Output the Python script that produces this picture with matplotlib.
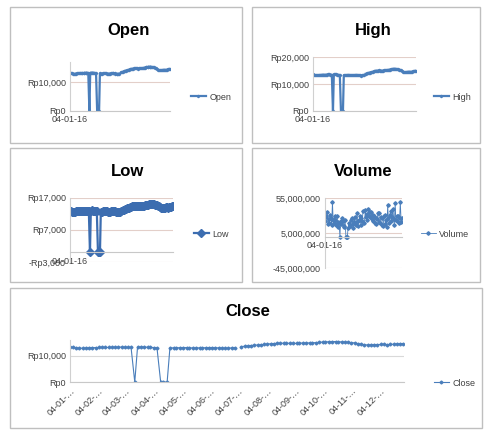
import numpy as np
import pandas as pd
import matplotlib
matplotlib.use('Agg')
import matplotlib.pyplot as plt
from matplotlib.patches import Rectangle
from matplotlib.ticker import FuncFormatter

plt.rcParams['font.family'] = ['Liberation Sans', 'DejaVu Sans']

# quotes sampled Monday / Thursday through 2016 (0 = empty rows in the sheet)
mondays = pd.date_range('2016-01-04', periods=52, freq='7D')
dates = mondays.append(mondays + pd.Timedelta(days=3)).sort_values()
nan = np.nan

open_px = [13250, 13200, 13100, 12950, 12900, 12900, 13000, 13050, 13100, 13100,
           13150, 13200, 13150, 13150, 13200, 13250, 13300, 13300, 13250, 13200,
           0, 13250, 13300, 13350, 13300, 13250, 13150, 13100, 0, 0,
           0, 13050, 13000, 13000, 13050, 13050, 13100, 13100, 13000, 12950,
           13000, 13000, 13050, 13050, 13100, 13100, 13050, 13000, 12900, 12850,
           12950, 13000, nan, 13400, 13550, 13650, 13800, 13950, 14050, 14100,
           14200, 14350, 14500, 14600, 14650, 14700, 14750, 14800, 14750, 14750,
           14700, 14750, 14800, 14850, 14850, 14900, 14950, 15050, 15150, 15200,
           15300, 15350, 15400, 15400, 15300, 15250, 15150, 15100, 14950, 14850,
           14450, 14250, 14150, 14100, 14150, 14200, 14250, 14300, 14300, 14250,
           14350, 14450, 14550, 14600]
high_px = [13550, 13450, 13300, 13200, 13150, 13200, 13300, 13350, 13350, 13400,
           13450, 13450, 13400, 13450, 13500, 13550, 13550, 13500, 13450, 13400,
           0, 13550, 13600, 13550, 13500, 13450, 13350, 13300, 0, 0,
           0, 13250, 13250, 13300, 13300, 13350, 13350, 13300, 13250, 13250,
           13250, 13300, 13300, 13350, 13350, 13300, 13250, 13200, 13100, 13150,
           13250, 13350, nan, 13800, 13900, 14000, 14150, 14250, 14350, 14400,
           14550, 14650, 14850, 14900, 14950, 14950, 15050, 15000, 15000, 14950,
           14950, 15050, 15100, 15100, 15150, 15200, 15250, 15350, 15450, 15500,
           15600, 15650, 15650, 15600, 15500, 15450, 15350, 15250, 15150, 14900,
           14600, 14450, 14350, 14400, 14450, 14500, 14550, 14550, 14500, 14550,
           14650, 14750, 14850, 14900]
low_px = [13050, 12900, 12750, 12650, 12600, 12700, 12800, 12850, 12850, 12900,
          12950, 12900, 12900, 12950, 13000, 13050, 13050, 13000, 12950, 12900,
          0, 13050, 13100, 13050, 13000, 12950, 12850, 12800, 0, 0,
          0, 12750, 12750, 12800, 12800, 12850, 12850, 12800, 12700, 12750,
          12750, 12800, 12800, 12850, 12850, 12800, 12750, 12700, 12600, 12650,
          12750, 12850, nan, 13250, 13350, 13500, 13650, 13750, 13850, 13900,
          14050, 14150, 14350, 14400, 14450, 14450, 14550, 14500, 14500, 14450,
          14450, 14550, 14600, 14600, 14650, 14700, 14750, 14850, 14950, 15000,
          15100, 15150, 15150, 15100, 15000, 14950, 14850, 14750, 14650, 14350,
          14050, 13950, 13850, 13900, 13950, 14000, 14050, 14050, 14000, 14050,
          14150, 14250, 14350, 14400]
close_px = [13300, 13150, 13000, 12900, 12850, 12950, 13050, 13100, 13100, 13150,
            13200, 13150, 13150, 13200, 13250, 13300, 13300, 13250, 13200, 13150,
            0, 13300, 13350, 13300, 13250, 13200, 13100, 13050, 0, 0,
            0, 13000, 13000, 13050, 13050, 13100, 13100, 13050, 12950, 13000,
            13000, 13050, 13050, 13100, 13100, 13050, 13000, 12950, 12850, 12900,
            13000, 13100, nan, 13500, 13600, 13750, 13900, 14000, 14100, 14150,
            14300, 14400, 14600, 14650, 14700, 14700, 14800, 14750, 14750, 14700,
            14700, 14800, 14850, 14850, 14900, 14950, 15000, 15100, 15200, 15250,
            15350, 15400, 15400, 15350, 15250, 15200, 15100, 15000, 14900, 14600,
            14300, 14200, 14100, 14150, 14200, 14250, 14300, 14300, 14250, 14300,
            14400, 14500, 14600, 14650]
volume_mn = [22, 30, 28, 35, 18, 25, 20, 31, 26, 17,
             50, 24, 20, 29, 24, 16, 30, 21, 14, 19,
             0, 22, 18, 27, 22, 13, 15, 24, 0, 0,
             0, 12, 20, 15, 16, 23, 26, 18, 12, 21,
             28, 17, 19, 34, 15, 22, 24, 30, 17, 26,
             22, 36, nan, 20, 38, 28, 32, 24, 40, 30,
             28, 35, 35, 25, 22, 31, 30, 19, 18, 27,
             25, 33, 33, 21, 20, 28, 27, 16, 15, 29,
             31, 18, 24, 14, 45, 26, 20, 31, 36, 22,
             28, 40, 25, 17, 48, 24, 22, 30, 30, 19,
             26, 50, 21, 27]

month_ticks = pd.date_range('2016-01-04', periods=12, freq=pd.DateOffset(months=1))
month_labels = [d.strftime('%d-%m-') + '\u2026' for d in month_ticks]

W, H = 484, 430
BLUE = '#4a7ebb'
GRID = '#e3cfc9'


def box(x0, y0, x1, y1):
    return [x0 / W, 1 - y1 / H, (x1 - x0) / W, (y1 - y0) / H]


def rupiah(v, pos=None):
    s = 'Rp{:,.0f}'.format(abs(v))
    return '-' + s if v < 0 else s


def setup(ax, ylim, yticks, fmt, grid=GRID):
    ax.set_ylim(*ylim)
    ax.set_yticks(yticks)
    ax.yaxis.set_major_formatter(FuncFormatter(fmt))
    ax.grid(axis='y', color=grid, lw=0.8)
    ax.set_axisbelow(True)
    for s in ['top', 'right']:
        ax.spines[s].set_visible(False)
    ax.spines['left'].set_color('#d0d0d0')
    ax.spines['bottom'].set_color('#c8c8c8')
    ax.tick_params(length=0, labelsize=6.5, colors='#404040', pad=3)


def small_x(ax):
    ax.set_xlim(dates[0], pd.Timestamp('2016-12-30'))
    ax.set_xticks([dates[0]])
    ax.set_xticklabels(['04-01-16'])


fig = plt.figure(figsize=(W / 100, H / 100), dpi=100)

# panel frames
for x0, y0, x1, y1 in [(10, 7, 242, 143), (252, 7, 480, 143), (10, 148, 242, 282),
                       (252, 148, 480, 282), (10, 288, 482, 428)]:
    fig.patches.append(Rectangle((x0 / W, 1 - y1 / H), (x1 - x0) / W, (y1 - y0) / H,
                                 transform=fig.transFigure, fill=False,
                                 ec='#bfbfbf', lw=1))


def legend(ax, line, label, x, y):
    ax.legend([line], [label], loc='center left', bbox_to_anchor=(x / W, 1 - y / H),
              bbox_transform=fig.transFigure, frameon=False, fontsize=6.5,
              handlelength=1.6, handletextpad=0.4, labelcolor='#404040')


# Open
ax = fig.add_axes(box(70, 62, 170, 111))
ln, = ax.plot(dates, open_px, color=BLUE, lw=1.6, marker='D', ms=1.2)
setup(ax, (0, 17000), [0, 10000], rupiah)
small_x(ax)
legend(ax, ln, 'Open', 183, 97)
fig.text(129 / W, 1 - 30 / H, 'Open', ha='center', va='center', fontsize=12, fontweight='bold')

# High
ax = fig.add_axes(box(313, 57, 416, 111))
ln, = ax.plot(dates, high_px, color=BLUE, lw=1.6, marker='D', ms=1.2)
setup(ax, (0, 20000), [0, 10000, 20000], rupiah)
small_x(ax)
legend(ax, ln, 'High', 426, 97)
fig.text(373 / W, 1 - 30 / H, 'High', ha='center', va='center', fontsize=12, fontweight='bold')

# Low
ax = fig.add_axes(box(70, 198, 173, 262))
ln, = ax.plot(dates, low_px, color='#3c6db0', lw=1.6, marker='D', ms=3.8)
setup(ax, (-3000, 17000), [-3000, 7000, 17000], rupiah)
ax.spines['bottom'].set_position(('data', 0))
small_x(ax)
legend(ax, ln, 'Low', 186, 234)
fig.text(128 / W, 1 - 172 / H, 'Low', ha='center', va='center', fontsize=12, fontweight='bold')

# Volume (shares, in millions)
ax = fig.add_axes(box(325, 198, 402, 268))
ln, = ax.plot(dates, volume_mn, color=BLUE, lw=0.6, marker='D', ms=1.8)
setup(ax, (-45, 55), [-45, 5, 55], lambda v, p=None: '{:,.0f}'.format(v * 1000000))
ax.spines['bottom'].set_position(('data', 0))
small_x(ax)
legend(ax, ln, 'Volume', 413, 234)
fig.text(363 / W, 1 - 172 / H, 'Volume', ha='center', va='center', fontsize=12, fontweight='bold')

# Close
ax = fig.add_axes(box(70, 340, 404, 382))
ln, = ax.plot(dates, close_px, color=BLUE, lw=0.8, marker='D', ms=1.5)
setup(ax, (0, 16000), [0, 10000], rupiah, grid='#d9d9d9')
ax.set_xlim(dates[0], pd.Timestamp('2016-12-30'))
ax.set_xticks(month_ticks)
ax.set_xticklabels(month_labels, rotation=45, ha='right', rotation_mode='anchor')
legend(ax, ln, 'Close', 426, 383)
fig.text(248 / W, 1 - 312 / H, 'Close', ha='center', va='center', fontsize=12, fontweight='bold')

fig.savefig('out.png', dpi=100, facecolor='white')
